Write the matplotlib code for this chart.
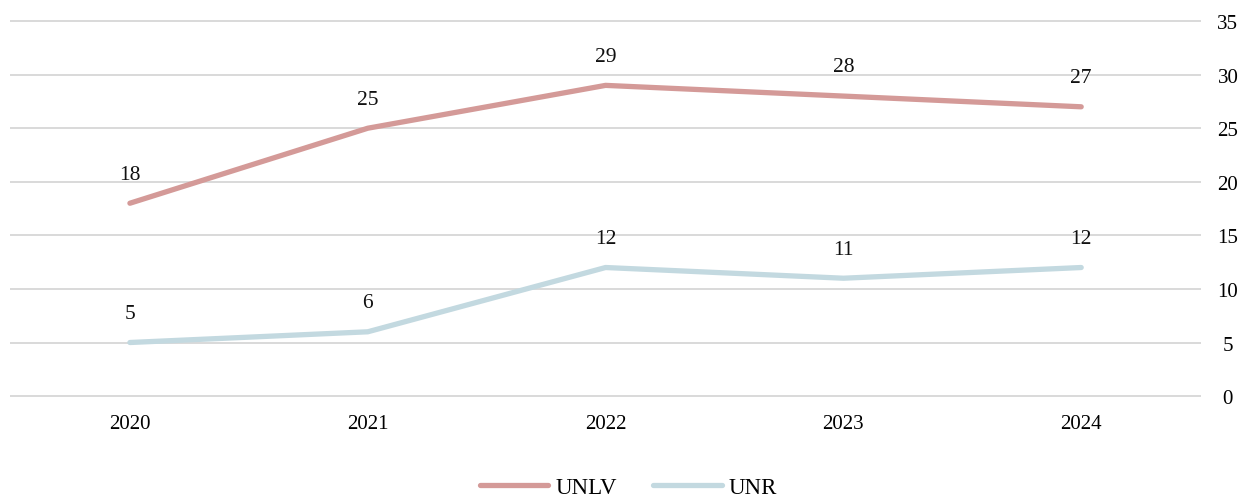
import matplotlib
matplotlib.use('Agg')
import matplotlib.pyplot as plt

plt.rcParams['font.family'] = ['Liberation Serif', 'DejaVu Serif']

years = ['2020', '2021', '2022', '2023', '2024']
unlv = [18, 25, 29, 28, 27]
unr = [5, 6, 12, 11, 12]

farbe_unlv = '#D49A98'
farbe_unr = '#C3D9E0'

fig = plt.figure(figsize=(12.57, 5.02), dpi=100)
ax = fig.add_axes([0.00875, 0.209, 0.946, 0.747])

x = range(len(years))
ax.plot(x, unlv, color=farbe_unlv, linewidth=3.8, solid_capstyle='round', label='UNLV', zorder=3)
ax.plot(x, unr, color=farbe_unr, linewidth=3.8, solid_capstyle='round', label='UNR', zorder=3)

for xs, ys in [(x, unlv), (x, unr)]:
    for xi, yi in zip(xs, ys):
        ax.annotate(str(yi), (xi, yi), xytext=(0, 21), textcoords='offset points',
                    ha='center', va='center', fontsize=15.5, color='#111111')

ax.set_xlim(-0.5, 4.5)
ax.set_ylim(0, 35)
ax.set_xticks(list(x))
ax.set_xticklabels(years)
ax.set_yticks(range(0, 36, 5))
ax.yaxis.tick_right()
ax.tick_params(axis='y', length=0, pad=20, labelsize=15)
ax.tick_params(axis='x', length=0, pad=13, labelsize=15)
for lbl in ax.get_yticklabels():
    lbl.set_horizontalalignment('center')
ax.yaxis.grid(True, color='#d9d9d9', linewidth=1.4)
for gl in ax.get_ygridlines():
    gl.set_clip_on(False)
ax.set_axisbelow(True)
for s in ax.spines.values():
    s.set_visible(False)

fig.legend(loc='lower center', bbox_to_anchor=(0.5, -0.035), ncol=2, frameon=False,
           fontsize=16.5, handlelength=3.0, handletextpad=0.3, columnspacing=1.6)

fig.savefig('out.png', dpi=100)
